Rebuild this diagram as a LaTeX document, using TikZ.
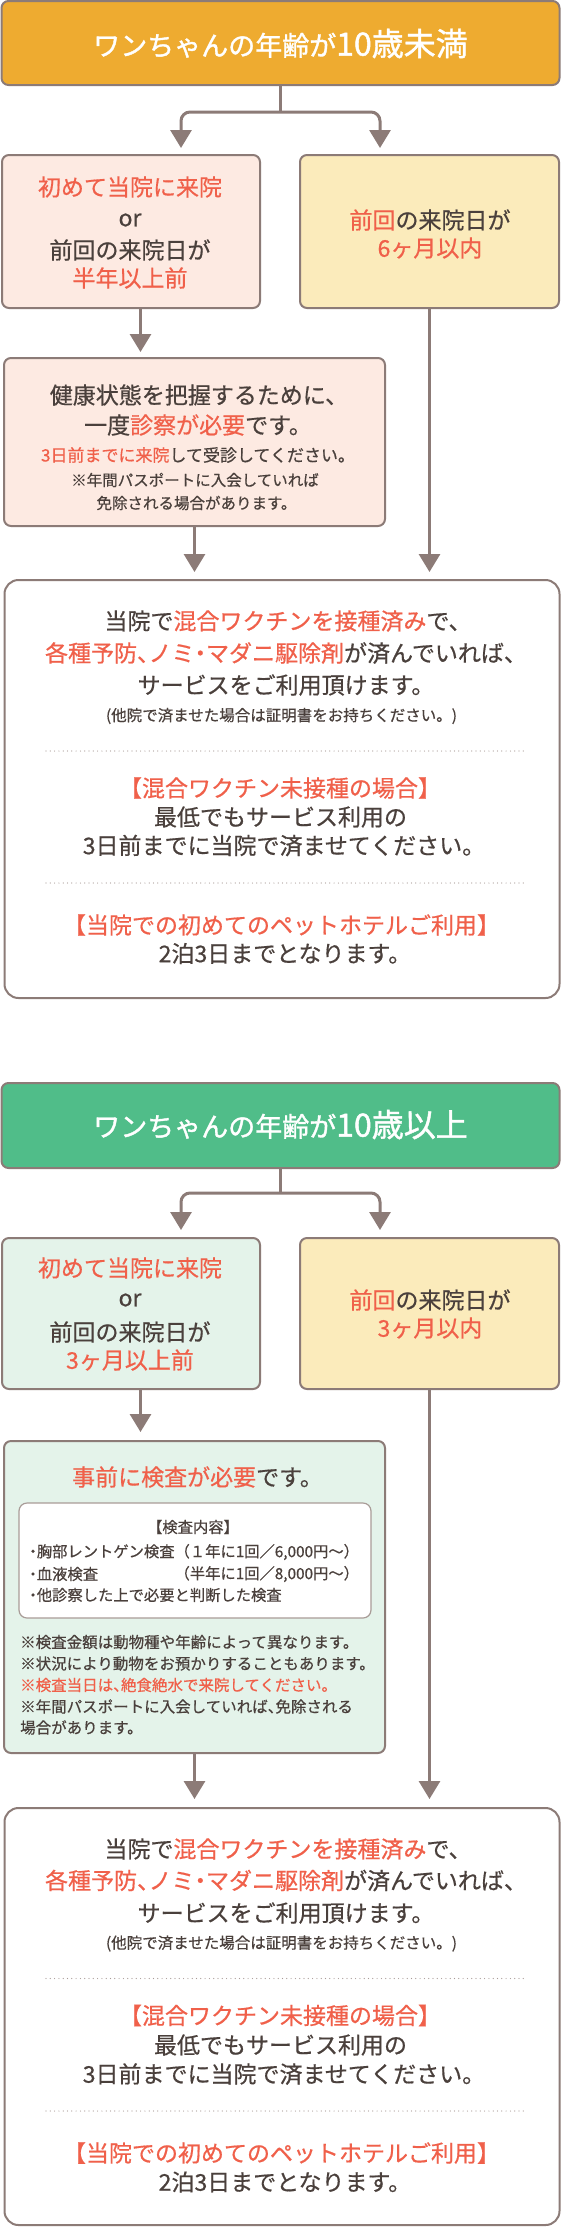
\documentclass[tikz,border=0pt]{standalone}
\usepackage{fontspec}
\setmainfont{Noto Sans CJK JP}[RawFeature={embolden=0.6}]
\newfontfamily\headfont{Noto Sans CJK JP}[RawFeature={embolden=1.3}]
\newfontfamily\halffont{Noto Sans CJK JP}[CharacterWidth=AlternateHalf, RawFeature={embolden=0.6}]
\usetikzlibrary{arrows.meta}
\definecolor{bordc}{HTML}{8C7B77}
\definecolor{txtc}{HTML}{4A403C}
\definecolor{redc}{HTML}{F0604A}
\definecolor{orangec}{HTML}{EEAB30}
\definecolor{greenc}{HTML}{50BD89}
\definecolor{pinkc}{HTML}{FDEAE2}
\definecolor{yellowc}{HTML}{FBEBBB}
\definecolor{mintc}{HTML}{E4F3EA}
\definecolor{innerc}{HTML}{A99C98}
\definecolor{dotc}{HTML}{A89A96}
\newcommand{\redtxt}[1]{\textcolor{redc}{#1}}
\newcommand{\halfp}[1]{{\halffont #1}}
\begin{document}
\begin{tikzpicture}[x=1pt,y=-1pt,
  boxst/.style={draw=bordc, line width=2pt, rounded corners=7pt, inner sep=0pt},
  tx/.style={text=txtc, inner sep=0pt, font=\fontsize{23}{28}\selectfont},
  txs/.style={text=txtc, inner sep=0pt, font=\fontsize{17}{20}\selectfont},
  txn/.style={text=txtc, inner sep=0pt, font=\fontsize{15.5}{19}\selectfont},
  txi/.style={text=txtc, inner sep=0pt, font=\fontsize{15.3}{19}\selectfont},
  txh/.style={text=white, inner sep=0pt, font=\headfont},
  conn/.style={draw=bordc, line width=3pt},
  arr/.style={conn, -{Triangle[width=21pt,length=18pt]}},
  twoarr/.style={conn, {Triangle[width=21pt,length=18pt]}-{Triangle[width=21pt,length=18pt]}, rounded corners=9pt},
  dotl/.style={draw=dotc, line width=1.2pt, line cap=round, dash pattern=on 0pt off 4.3pt}
]
\fill[white] (0,0) rectangle (561,2227);
\useasboundingbox (0,0) rectangle (561,2227);

% ===== Section 1 =====
\node[boxst, fill=orangec, minimum width=558pt, minimum height=84pt] (h1) at (280.5,43) {};
\node[txh] (h1t) at (280.5,43.5) {{\fontsize{27}{30}\selectfont ワンちゃんの年齢が}{\fontsize{32}{34}\selectfont 10歳未満}};

\node[boxst, fill=pinkc, minimum width=258pt, minimum height=153pt] (p1) at (131,231.5) {};
\node[tx, text=redc] (p1a) at (130,187) {初めて当院に来院};
\node[tx] (p1b) at (130,220) {or};
\node[tx] (p1c) at (130,250) {前回の来院日が};
\node[tx, text=redc] (p1d) at (130,278) {半年以上前};

\node[boxst, fill=yellowc, minimum width=259pt, minimum height=153pt] (y1) at (429.5,231.5) {};
\node[tx] (y1a) at (430,220) {\redtxt{前回}の来院日が};
\node[tx, text=redc] (y1b) at (430,248) {6ヶ月以内};

\coordinate (b1) at (280.5,112);
\coordinate (t1l) at (181,148);
\coordinate (t1r) at (380,148);
\draw[conn] (h1.south) -- (b1);
\draw[twoarr] (t1l) |- (b1) -| (t1r);

\node[boxst, fill=pinkc, minimum width=381pt, minimum height=168pt] (hb) at (194.5,442) {};
\node[tx] (hba) at (199,395) {健康状態を把握するために、};
\node[tx] (hbb) at (198,425) {一度\redtxt{診察が必要}です。};
\node[txs] (hbc) at (198,455) {\redtxt{3日前までに来院}して受診してください。};
\node[txn] (hbd) at (195,480) {※年間パスポートに入会していれば};
\node[txn] (hbe) at (196.5,503) {免除される場合があります。};

\coordinate (p1o) at ([xshift=9.5pt]p1.south);
\draw[arr, shorten >=5pt] (p1o) -- (p1o |- hb.north);

\node[boxst, fill=white, rounded corners=14pt, minimum width=555pt, minimum height=418pt] (bg1) at (282,789) {};
\node[tx] (bg1a) at (288,621) {当院で\redtxt{混合ワクチンを接種済み}で、};
\node[tx] (bg1b) at (286,653) {\redtxt{各種予防\halfp{、}ノミ\halfp{・}マダニ駆除剤}が済んでいれば、};
\node[tx] (bg1c) at (286,685) {サービスをご利用頂けます。};
\node[txn] (bg1d) at (281.5,716) {(他院で済ませた場合は証明書をお持ちください。)};
\draw[dotl] (46,751) -- (527,751);
\node[tx, text=redc] (bg1e) at (280,788) {【混合ワクチン未接種の場合】};
\node[tx] (bg1f) at (280.5,817) {最低でもサービス利用の};
\node[tx] (bg1g) at (284,845.5) {3日前までに当院で済ませてください。};
\draw[dotl] (46,883) -- (527,883);
\node[tx, text=redc] (bg1h) at (281.5,925) {【当院での初めてのペットホテルご利用】};
\node[tx] (bg1i) at (285,953.5) {2泊3日までとなります。};

\draw[arr, shorten >=7pt] (hb.south) -- (hb.south |- bg1.north);
\draw[arr, shorten >=7pt] (y1.south) -- (y1.south |- bg1.north);

% ===== Section 2 =====
\node[boxst, fill=greenc, minimum width=558pt, minimum height=85pt] (h2) at (280.5,1125.5) {};
\node[txh] (h2t) at (280.5,1124.5) {{\fontsize{27}{30}\selectfont ワンちゃんの年齢が}{\fontsize{32}{34}\selectfont 10歳以上}};

\node[boxst, fill=mintc, minimum width=258pt, minimum height=151pt] (m1) at (131,1313.5) {};
\node[tx, text=redc] (m1a) at (130,1268) {初めて当院に来院};
\node[tx] (m1b) at (130,1300) {or};
\node[tx] (m1c) at (130,1332) {前回の来院日が};
\node[tx, text=redc] (m1d) at (130,1360) {3ヶ月以上前};

\node[boxst, fill=yellowc, minimum width=259pt, minimum height=151pt] (y2) at (429.5,1313.5) {};
\node[tx] (y2a) at (430,1300) {\redtxt{前回}の来院日が};
\node[tx, text=redc] (y2b) at (430,1328) {3ヶ月以内};

\coordinate (b2) at (280.5,1193);
\coordinate (t2l) at (181,1230);
\coordinate (t2r) at (380,1230);
\draw[conn] (h2.south) -- (b2);
\draw[twoarr] (t2l) |- (b2) -| (t2r);

\node[boxst, fill=mintc, minimum width=381pt, minimum height=312pt] (ex) at (194.5,1597) {};
\node[tx] (exa) at (197.5,1477) {\redtxt{事前に検査が必要}です。};
\node[draw=innerc, line width=1.2pt, rounded corners=8pt, fill=white, inner sep=0pt, minimum width=352pt, minimum height=115pt] (inb) at (195,1560.5) {};
\node[txi] (inh) at (193,1527) {【検査内容】};
\node[txi, anchor=west] (in1) at (29,1552) {\halfp{・}胸部レントゲン検査（１年に1回／6,000円～）};
\node[txi, anchor=west] (in2) at (29,1574) {\halfp{・}血液検査};
\node[txi, anchor=east] (in2b) at (in1.east |- 0,1574) {（半年に1回／8,000円～）};
\node[txi, anchor=west] (in3) at (29,1595) {\halfp{・}他診察した上で必要と判断した検査};
\node[txn, anchor=west] (ex1) at (20,1642) {※検査金額は動物種や年齢によって異なります。};
\node[txn, anchor=west] (ex2) at (20,1663.5) {※状況により動物をお預かりすることもあります。};
\node[txn, anchor=west, text=redc] (ex3) at (20,1685) {※検査当日は\halfp{、}絶食絶水で来院してください。};
\node[txn, anchor=west] (ex4) at (20,1706.5) {※年間パスポートに入会していれば\halfp{、}免除される};
\node[txn, anchor=west] (ex5) at (20,1727.5) {場合があります。};

\coordinate (m1o) at ([xshift=9.5pt]m1.south);
\draw[arr, shorten >=8pt] (m1o) -- (m1o |- ex.north);

\node[boxst, fill=white, rounded corners=14pt, minimum width=555pt, minimum height=417pt] (bg2) at (282,2016.5) {};
\node[tx] (bg2a) at (288,1849) {当院で\redtxt{混合ワクチンを接種済み}で、};
\node[tx] (bg2b) at (286,1880.5) {\redtxt{各種予防\halfp{、}ノミ\halfp{・}マダニ駆除剤}が済んでいれば、};
\node[tx] (bg2c) at (286,1913) {サービスをご利用頂けます。};
\node[txn] (bg2d) at (281.5,1943.5) {(他院で済ませた場合は証明書をお持ちください。)};
\draw[dotl] (46,1978.5) -- (527,1978.5);
\node[tx, text=redc] (bg2e) at (280,2015.5) {【混合ワクチン未接種の場合】};
\node[tx] (bg2f) at (280.5,2045) {最低でもサービス利用の};
\node[tx] (bg2g) at (284,2074) {3日前までに当院で済ませてください。};
\draw[dotl] (46,2111) -- (527,2111);
\node[tx, text=redc] (bg2h) at (281.5,2153) {【当院での初めてのペットホテルご利用】};
\node[tx] (bg2i) at (285,2182) {2泊3日までとなります。};

\draw[arr, shorten >=8pt] (ex.south) -- (ex.south |- bg2.north);
\draw[arr, shorten >=8pt] (y2.south) -- (y2.south |- bg2.north);
\end{tikzpicture}
\end{document}
